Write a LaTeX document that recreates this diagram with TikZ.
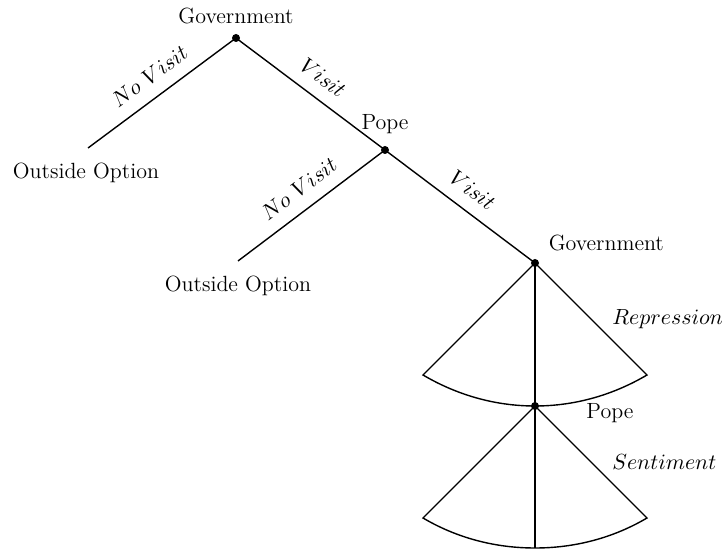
\documentclass[tikz,border=0pt]{standalone}
\usepackage{amsmath}
\usetikzlibrary{positioning}

\begin{document}
\begin{tikzpicture}[
        x=0.5pt, y=-0.5pt,
        dot/.style={circle, fill=black, inner sep=0pt, minimum size=4pt},
        player/.style={font=\fontsize{11}{13.5}\selectfont},
        move/.style={font=\fontsize{11}{13.5}\selectfont},
        branch/.style={line width=0.7pt}
    ]
    \useasboundingbox (0,0) rectangle (724,550);

    \node[dot] (g1) at (236,38)  {};
    \node[dot] (p1) at (385,150) {};
    \node[dot] (g2) at (535,263) {};
    \node[dot] (p2) at (535,406) {};
    \coordinate (o1) at (88,148);
    \coordinate (o2) at (238,261);
    \coordinate (rl) at (423,375);
    \coordinate (rr) at (647,375);
    \coordinate (sl) at (423,518);
    \coordinate (sr) at (647,518);
    \coordinate (s0) at (535,548);

    \node[player] (g1lab) [above=1.2pt of g1]            {Government};
    \node[player] (p1lab) [above=2.6pt of p1]            {Pope};
    \node[player] (g2lab) [above right=0.7pt and 1.8pt of g2] {Government};
    \node[player] (p2lab) [right=20pt of p2, yshift=-3.6pt] {Pope};
    \node[player] (o1lab) [below=4pt of o1, xshift=-1pt] {Outside Option};
    \node[player] (o2lab) [below=3.8pt of o2]            {Outside Option};

    % first stage
    \draw[branch] (o1) -- node[move, sloped, above=3pt] {$No\ Visit$} (g1.center);
    \draw[branch] (g1.center) -- node[move, sloped, above=3pt] {$Visit$} (p1.center);
    \draw[branch] (o2) -- node[move, sloped, above=3pt] {$No\ Visit$} (p1.center);
    \draw[branch] (p1.center) -- node[move, sloped, above=3pt] {$Visit$} (g2.center);

    % continuous choices
    \draw[branch] (g2.center) -- (rl)
        .. controls +(34,20) and +(-40,0) .. (p2.center)
        .. controls +(40,0) and +(-34,20) .. (rr)
        -- node[move, right=7pt] {$Repression$} (g2.center);
    \draw[branch] (g2.center) -- (p2.center);
    \draw[branch] (p2.center) -- (sl)
        .. controls +(34,20) and +(-40,0) .. (s0)
        .. controls +(40,0) and +(-34,20) .. (sr)
        -- node[move, right=7pt] {$Sentiment$} (p2.center);
    \draw[branch] (p2.center) -- (s0);
\end{tikzpicture}
\end{document}
